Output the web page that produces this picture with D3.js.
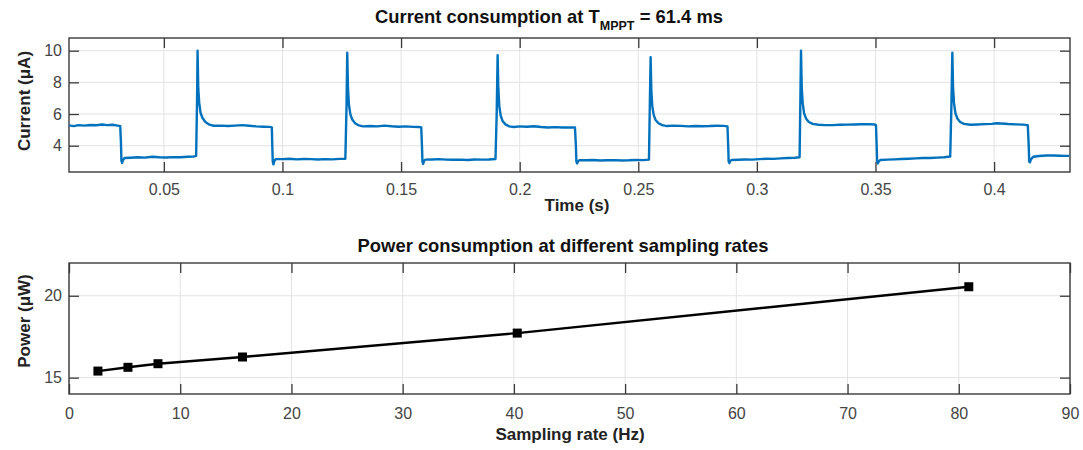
<!DOCTYPE html>
<html>
<head>
<meta charset="utf-8">
<script src="https://cdn.jsdelivr.net/npm/d3@7"></script>
<style>
body{margin:0;background:#fff;}
text{font-family:"Liberation Sans",Arial,Helvetica,sans-serif;}
</style>
</head>
<body>
<script>
//current trace (time in s, current in uA)
var timeS = [
0.0100,0.0120,0.0140,0.0165,0.0190,0.0215,0.0240,0.0260,0.0285,0.0305,0.0316,
0.0319,0.0321,0.0324,0.0328,0.0334,
0.0360,0.0390,0.0420,0.0450,0.0480,0.0510,0.0540,0.0570,0.0600,0.0625,0.0636,
0.0640,0.0642,0.0645,0.0649,0.0655,0.0663,0.0675,0.0692,0.0710,0.0740,0.0770,0.0800,0.0830,0.0860,0.0890,0.0920,0.0945,0.0955,
0.0957,0.0959,0.0962,0.0966,0.0972,
0.1000,0.1030,0.1060,0.1090,0.1120,0.1150,0.1180,0.1210,0.1240,0.1265,
0.1270,0.1273,0.1276,0.1280,0.1286,0.1294,0.1306,0.1322,0.1340,0.1370,0.1400,0.1430,0.1460,0.1490,0.1520,0.1550,0.1575,0.1585,
0.1588,0.1590,0.1593,0.1597,0.1603,
0.1630,0.1660,0.1690,0.1720,0.1750,0.1780,0.1810,0.1840,0.1870,0.1898,
0.1903,0.1907,0.1910,0.1914,0.1920,0.1928,0.1940,0.1956,0.1975,0.2000,0.2030,0.2060,0.2090,0.2120,0.2150,0.2180,0.2210,0.2233,
0.2237,0.2239,0.2242,0.2246,0.2252,
0.2280,0.2310,0.2340,0.2370,0.2400,0.2430,0.2460,0.2490,0.2520,0.2545,
0.2548,0.2552,0.2555,0.2559,0.2565,0.2573,0.2585,0.2601,0.2620,0.2650,0.2680,0.2710,0.2740,0.2770,0.2800,0.2830,0.2860,0.2876,
0.2879,0.2881,0.2884,0.2888,0.2894,
0.2920,0.2950,0.2980,0.3010,0.3040,0.3070,0.3100,0.3130,0.3160,0.3180,
0.3183,0.3186,0.3189,0.3193,0.3199,0.3207,0.3219,0.3235,0.3260,0.3290,0.3320,0.3350,0.3380,0.3410,0.3440,0.3470,0.3495,0.3502,
0.3505,0.3507,0.3510,0.3514,0.3520,
0.3550,0.3580,0.3610,0.3640,0.3670,0.3700,0.3730,0.3760,0.3790,0.3815,
0.3820,0.3824,0.3827,0.3831,0.3837,0.3845,0.3857,0.3873,0.3900,0.3930,0.3960,0.3990,0.4010,0.4030,0.4060,0.4090,0.4120,0.4142,
0.4146,0.4148,0.4151,0.4156,0.4165,
0.4190,0.4220,0.4250,0.4280,0.4300,0.4317
];
var currentUA = [
5.28,5.24,5.30,5.27,5.31,5.29,5.34,5.30,5.32,5.27,5.24,
4.20,3.05,2.92,3.10,3.22,
3.24,3.27,3.25,3.30,3.27,3.26,3.28,3.27,3.30,3.31,3.36,
7.00,10.0,7.60,6.70,6.05,5.75,5.50,5.33,5.26,5.27,5.24,5.27,5.30,5.26,5.22,5.20,5.19,5.16,
4.00,3.00,2.82,3.05,3.15,
3.15,3.18,3.14,3.16,3.15,3.13,3.15,3.14,3.17,3.18,
6.50,9.87,7.70,6.60,6.00,5.65,5.42,5.28,5.22,5.24,5.22,5.27,5.23,5.20,5.22,5.19,5.18,5.16,
4.00,3.00,2.85,3.05,3.12,
3.13,3.15,3.12,3.11,3.12,3.10,3.13,3.12,3.13,3.16,
6.00,9.72,7.60,6.50,5.90,5.55,5.35,5.22,5.18,5.22,5.20,5.23,5.18,5.15,5.17,5.15,5.16,5.15,
4.00,3.00,2.88,3.02,3.08,
3.08,3.10,3.07,3.08,3.09,3.07,3.08,3.10,3.09,3.12,
6.00,9.58,7.50,6.50,5.95,5.62,5.42,5.30,5.24,5.27,5.25,5.22,5.24,5.23,5.24,5.26,5.25,5.22,
4.00,3.00,2.90,3.05,3.10,
3.11,3.13,3.12,3.15,3.18,3.17,3.20,3.22,3.24,3.27,
6.50,10.0,7.70,6.70,6.05,5.72,5.50,5.38,5.32,5.30,5.30,5.32,5.33,5.34,5.35,5.36,5.34,5.30,
4.00,3.00,2.88,3.00,3.10,
3.12,3.14,3.16,3.18,3.20,3.22,3.22,3.25,3.27,3.32,
6.50,9.87,7.70,6.70,6.05,5.72,5.50,5.38,5.32,5.34,5.36,5.38,5.42,5.40,5.37,5.35,5.33,5.30,
4.00,3.00,2.95,3.15,3.30,
3.35,3.38,3.38,3.37,3.36,3.36
];
var timeTicks = [0.05,0.1,0.15,0.2,0.25,0.3,0.35,0.4];
var currentTicks = [4,6,8,10];

//power vs sampling rate
var rateHz = [2.6,5.3,8.0,15.6,40.3,80.9];
var powerUW = [15.4,15.63,15.85,16.26,17.72,20.55];
var rateTicks = [0,10,20,30,40,50,60,70,80,90];
var powerTicks = [15,20];

var svg = d3.select("body")
.append("svg")
.attr("width", 1083)
.attr("height", 450);

var left = 69, right = 1070;

var x1 = d3.scaleLinear().domain([0.01,0.432]).range([left,right]);
var y1 = d3.scaleLinear().domain([2.34,10.8]).range([172,38]);
var x2 = d3.scaleLinear().domain([0,90]).range([left,right]);
var y2 = d3.scaleLinear().domain([14,22]).range([394,263]);

//matlab-like box: grid, inward ticks on all four sides
function frame(x, y, xt, yt, xpad){
  var g = svg.append("g");
  var x0 = x.range()[0], xN = x.range()[1];
  var yB = y.range()[0], yT = y.range()[1];

  g.selectAll(".vg").data(xt).enter().append("line")
  .attr("x1", x).attr("x2", x)
  .attr("y1", yT).attr("y2", yB)
  .attr("stroke", "#e2e2e2").attr("stroke-width", 1);
  g.selectAll(".hg").data(yt).enter().append("line")
  .attr("y1", y).attr("y2", y)
  .attr("x1", x0).attr("x2", xN)
  .attr("stroke", "#e2e2e2").attr("stroke-width", 1);

  var axes = [
    {a: d3.axisBottom(x).tickValues(xt).tickPadding(xpad).tickFormat(function(d){return d;}), t: "translate(0," + yB + ")"},
    {a: d3.axisTop(x).tickValues(xt).tickFormat(""), t: "translate(0," + yT + ")"},
    {a: d3.axisLeft(y).tickValues(yt).tickPadding(7).tickFormat(function(d){return d;}), t: "translate(" + x0 + ",0)"},
    {a: d3.axisRight(y).tickValues(yt).tickFormat(""), t: "translate(" + xN + ",0)"}
  ];
  axes.forEach(function(d){
    var ax = g.append("g")
    .attr("transform", d.t)
    .call(d.a.tickSize(-10).tickSizeOuter(0));
    ax.select(".domain").remove();
    ax.selectAll("line").attr("stroke", "#3a3a3a").attr("stroke-width", 1.3);
    ax.selectAll("text")
    .attr("fill", "#444")
    .style("font-size", "16px")
    .style("font-family", '"Liberation Sans",Arial,sans-serif');
  });

  g.append("rect")
  .attr("x", x0).attr("y", yT)
  .attr("width", xN - x0).attr("height", yB - yT)
  .attr("fill", "none")
  .attr("stroke", "#3a3a3a")
  .attr("stroke-width", 1.4);
  return g;
}

//top panel
frame(x1, y1, timeTicks, currentTicks, 12);

var currentLine = d3.line()
.x(function(d, i){ return x1(timeS[i]); })
.y(function(d){ return y1(d); });

svg.append("path")
.datum(currentUA)
.attr("d", currentLine)
.attr("fill", "none")
.attr("stroke", "#0072BD")
.attr("stroke-width", 2.4)
.attr("stroke-linejoin", "round");

var t1 = svg.append("text")
.attr("x", 375)
.attr("y", 23)
.style("font-size", "18.4px")
.style("font-weight", "bold")
.attr("fill", "#111");
t1.append("tspan").text("Current consumption at T");
t1.append("tspan").attr("dy", 7).style("font-size", "12.5px").text("MPPT");
t1.append("tspan").attr("dy", -7).text(" = 61.4 ms");

svg.append("text")
.attr("x", 577)
.attr("y", 211)
.attr("text-anchor", "middle")
.style("font-size", "17px")
.style("font-weight", "bold")
.attr("fill", "#222")
.text("Time (s)");

svg.append("text")
.attr("transform", "translate(30,101) rotate(-90)")
.attr("text-anchor", "middle")
.style("font-size", "17px")
.style("font-weight", "bold")
.attr("fill", "#222")
.text("Current (\u03bcA)");

//bottom panel
frame(x2, y2, rateTicks, powerTicks, 14);

var powerLine = d3.line()
.x(function(d, i){ return x2(rateHz[i]); })
.y(function(d){ return y2(d); });

svg.append("path")
.datum(powerUW)
.attr("d", powerLine)
.attr("fill", "none")
.attr("stroke", "#000")
.attr("stroke-width", 2.4);

svg.append("g")
.selectAll("rect")
.data(powerUW)
.enter().append("rect")
.attr("x", function(d, i){ return x2(rateHz[i]) - 4.5; })
.attr("y", function(d){ return y2(d) - 4.5; })
.attr("width", 9)
.attr("height", 9)
.attr("fill", "#000");

svg.append("text")
.attr("x", 563)
.attr("y", 252)
.attr("text-anchor", "middle")
.style("font-size", "18.4px")
.style("font-weight", "bold")
.attr("fill", "#111")
.text("Power consumption at different sampling rates");

svg.append("text")
.attr("x", 570)
.attr("y", 440)
.attr("text-anchor", "middle")
.style("font-size", "17px")
.style("font-weight", "bold")
.attr("fill", "#222")
.text("Sampling rate (Hz)");

svg.append("text")
.attr("transform", "translate(30,321) rotate(-90)")
.attr("text-anchor", "middle")
.style("font-size", "17px")
.style("font-weight", "bold")
.attr("fill", "#222")
.text("Power (\u03bcW)");
</script>
</body>
</html>
